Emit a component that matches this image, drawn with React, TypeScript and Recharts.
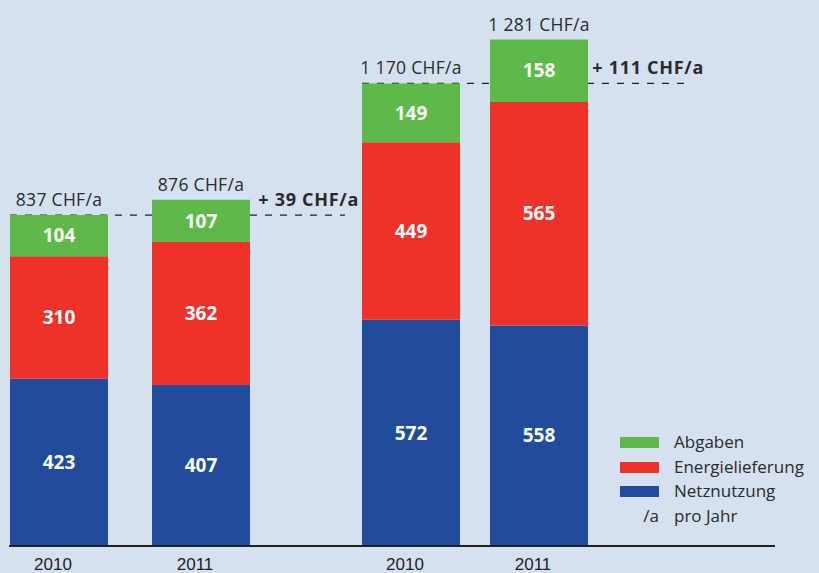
import React from 'react';
import { BarChart, Bar, XAxis, YAxis, ReferenceLine, LabelList, Legend } from 'recharts';

// values (CHF per year)
const years = ['2010', '2011'];

const netzA = [423, 407];
const energieA = [310, 362];
const abgabenA = [104, 107];
const totalsA = ['837 CHF/a', '876 CHF/a'];
const baseA = 837;
const deltaA = '+ 39 CHF/a';

const netzB = [572, 558];
const energieB = [449, 565];
const abgabenB = [149, 158];
const totalsB = ['1 170 CHF/a', '1 281 CHF/a'];
const baseB = 1170;
const deltaB = '+ 111 CHF/a';

const series = [
  { key: 'netz', name: 'Netznutzung', color: '#214c9b' },
  { key: 'energie', name: 'Energielieferung', color: '#ee3129' },
  { key: 'abgaben', name: 'Abgaben', color: '#5db948' },
];

const font = '"Open Sans", sans-serif';
const textColor = '#2b2b2b';

const buildRows = (netz: number[], energie: number[], abgaben: number[], totals: string[]) =>
  years.map((year, i) => ({
    year,
    netz: netz[i],
    energie: energie[i],
    abgaben: abgaben[i],
    total: totals[i],
  }));

const rowsA = buildRows(netzA, energieA, abgabenA, totalsA);
const rowsB = buildRows(netzB, energieB, abgabenB, totalsB);

const deltaLabel = (text: string) => (props: any) => {
  const vb = props.viewBox || {};
  return (
    <text
      x={vb.x + vb.width + 14}
      y={vb.y - 9}
      textAnchor="end"
      fontFamily={font}
      fontSize={18}
      fontWeight={700}
      letterSpacing={0.7}
      fill={textColor}
    >
      {text}
    </text>
  );
};

const LegendBox = () => {
  const items = [...series].reverse();
  return (
    <div style={{ fontFamily: font, fontSize: 17, color: textColor, lineHeight: '24.7px' }}>
      {items.map((s) => (
        <div key={s.key} style={{ display: 'flex', alignItems: 'center' }}>
          <span style={{ display: 'inline-block', width: 39, height: 11, background: s.color, marginRight: 15 }} />
          <span>{s.name}</span>
        </div>
      ))}
      <div style={{ display: 'flex', alignItems: 'center' }}>
        <span style={{ display: 'inline-block', width: 39, marginRight: 15, textAlign: 'right' }}>/a</span>
        <span>pro Jahr</span>
      </div>
    </div>
  );
};

type GroupProps = {
  rows: any[];
  base: number;
  delta: string;
  width: number;
  margin: { top: number; right: number; bottom: number; left: number };
  padding: { left: number; right: number };
  legend?: boolean;
};

const Group = ({ rows, base, delta, width, margin, padding, legend }: GroupProps) => (
  <BarChart width={width} height={573} data={rows} margin={margin} barSize={98}>
    <XAxis
      dataKey="year"
      axisLine={false}
      tickLine={false}
      height={27}
      padding={padding}
      tickMargin={6}
      tick={{ fill: '#222', fontSize: 17, fontFamily: '"Liberation Sans", Arial, sans-serif', dx: -6 }}
    />
    <YAxis hide domain={[0, 1300]} />
    <ReferenceLine
      y={base}
      stroke="#222"
      strokeWidth={1.2}
      strokeDasharray="7 8"
      zIndex={100}
      label={deltaLabel(delta)}
    />
    {series.map((s) => (
      <Bar key={s.key} dataKey={s.key} name={s.name} stackId="a" fill={s.color} isAnimationActive={false}>
        <LabelList
          dataKey={s.key}
          position="center"
          fill="#fff"
          fontSize={19}
          fontWeight={700}
          fontFamily={font}
        />
        {s.key === 'abgaben' && (
          <LabelList
            dataKey="total"
            position="top"
            offset={9}
            fill={textColor}
            fontSize={17.5}
            letterSpacing={0.3}
            fontFamily={font}
          />
        )}
      </Bar>
    ))}
    {legend && (
      <Legend
        layout="vertical"
        align="center"
        verticalAlign="middle"
        content={() => <LegendBox />}
        wrapperStyle={{ left: 280, top: 430, width: 200, height: 100 }}
      />
    )}
  </BarChart>
);

export default function App() {
  return (
    <div
      style={{
        position: 'absolute',
        left: 0,
        top: 0,
        width: 819,
        height: 573,
        overflow: 'hidden',
        background: '#d5e0f0',
        fontFamily: font,
      }}
    >
      <div style={{ position: 'absolute', left: 0, top: 0 }}>
        <Group
          rows={rowsA}
          base={baseA}
          delta={deltaA}
          width={370}
          margin={{ top: 32, right: 25, bottom: 0, left: 10 }}
          padding={{ left: -22, right: 73 }}
        />
      </div>
      <div style={{ position: 'absolute', left: 340, top: 0 }}>
        <Group
          rows={rowsB}
          base={baseB}
          delta={deltaB}
          width={479}
          margin={{ top: 32, right: 129, bottom: 0, left: 22 }}
          padding={{ left: -15, right: 87 }}
          legend
        />
      </div>
      <div style={{ position: 'absolute', left: 9, top: 545, width: 766, height: 1.5, background: '#222' }} />
    </div>
  );
}
